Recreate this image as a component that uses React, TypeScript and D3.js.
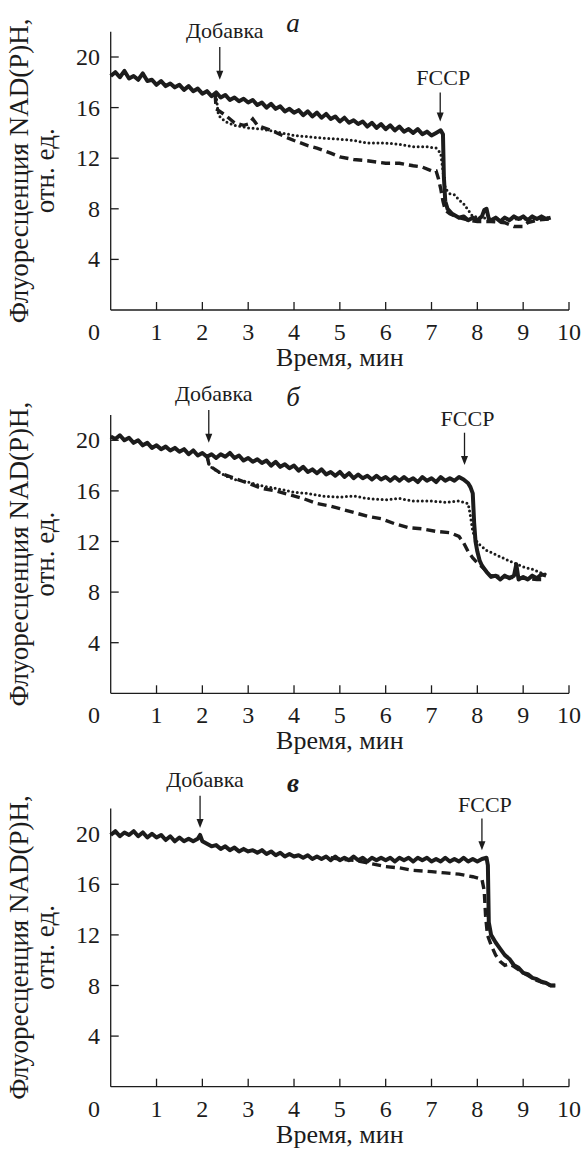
import React from 'react';
import * as d3 from 'd3';

type Pt = [number, number];

// shared axes
const xTicks = [1, 2, 3, 4, 5, 6, 7, 8, 9, 10];
const yTicks = [4, 8, 12, 16, 20];
const panelLetters = ['а', 'б', 'в'];
const addLabel = 'Добавка';
const fccpLabel = 'FCCP';

// arrows: [time, from value, to value]
const addArrows: [number, number, number][] = [[2.38, 20.8, 18.2], [2.14, 22.4, 19.8], [1.95, 23.0, 20.45]];
const fccpArrows: [number, number, number][] = [[7.19, 17.2, 14.9], [7.72, 20.6, 18.05], [8.1, 21.2, 18.7]];

// panel a
const aSolid: Pt[] = [
  [0, 18.5], [0.1, 18.8], [0.2, 18.4], [0.3, 18.9], [0.4, 18.3], [0.5, 18.5], [0.6, 18.2], [0.7, 18.7], [0.8, 18.1], [0.9, 18.2],
  [1, 17.8], [1.1, 18.1], [1.2, 17.7], [1.3, 17.9], [1.4, 17.6], [1.5, 17.8], [1.6, 17.4], [1.7, 17.7], [1.8, 17.3], [1.9, 17.5],
  [2, 17.1], [2.1, 17.3], [2.2, 16.9], [2.3, 17.2], [2.4, 16.8], [2.5, 17.0], [2.6, 16.6], [2.7, 16.8], [2.8, 16.5], [2.9, 16.7],
  [3, 16.4], [3.1, 16.6], [3.2, 16.2], [3.3, 16.4], [3.4, 16.0], [3.5, 16.3], [3.6, 15.9], [3.7, 16.1], [3.8, 15.7], [3.9, 15.9],
  [4, 15.6], [4.1, 15.8], [4.2, 15.4], [4.3, 15.7], [4.4, 15.3], [4.5, 15.6], [4.6, 15.2], [4.7, 15.5], [4.8, 15.1], [4.9, 15.3],
  [5, 14.9], [5.1, 15.2], [5.2, 14.8], [5.3, 15.0], [5.4, 14.7], [5.5, 14.9], [5.6, 14.5], [5.7, 14.8], [5.8, 14.4], [5.9, 14.7],
  [6, 14.3], [6.1, 14.6], [6.2, 14.2], [6.3, 14.5], [6.4, 14.1], [6.5, 14.3], [6.6, 14.0], [6.7, 14.3], [6.8, 13.9], [6.9, 14.1],
  [7, 13.8], [7.1, 14.0], [7.2, 14.2], [7.25, 13.9], [7.27, 10.5], [7.3, 8.6], [7.35, 8.0], [7.45, 7.6], [7.6, 7.3], [7.7, 7.4],
  [7.8, 7.1], [7.9, 7.3], [8, 7.1], [8.1, 7.4], [8.15, 7.9], [8.2, 8.0], [8.25, 7.2], [8.3, 7.1], [8.4, 7.3], [8.5, 7.0],
  [8.6, 7.3], [8.7, 7.1], [8.8, 7.4], [8.9, 7.2], [9, 7.4], [9.1, 7.1], [9.2, 7.4], [9.3, 7.2], [9.4, 7.4], [9.5, 7.2], [9.6, 7.3],
];
const aDotted: Pt[] = [
  [2.3, 17.0], [2.35, 15.4], [2.5, 14.9], [2.7, 14.6], [3, 14.4], [3.3, 14.3], [3.6, 14.1], [4, 13.8], [4.3, 13.7], [4.6, 13.6],
  [5, 13.5], [5.3, 13.4], [5.6, 13.2], [6, 13.2], [6.3, 13.1], [6.6, 12.9], [6.9, 12.9], [7.1, 12.8], [7.2, 12.4], [7.25, 11.0],
  [7.3, 9.6], [7.4, 9.2], [7.5, 9.1], [7.6, 8.7], [7.7, 8.4], [7.8, 7.9], [7.9, 7.4], [8.1, 7.3], [8.4, 7.2], [8.8, 7.2], [9.2, 7.2], [9.6, 7.3],
];
const aDashed: Pt[] = [
  [2.28, 17.0], [2.3, 15.9], [2.5, 15.4], [2.7, 14.8], [2.9, 14.6], [3, 14.7], [3.1, 15.1], [3.2, 14.6], [3.5, 14.2], [3.8, 13.7],
  [4, 13.4], [4.3, 13.0], [4.5, 12.8], [4.8, 12.4], [5, 12.1], [5.3, 11.9], [5.6, 11.8], [6, 11.6], [6.3, 11.6], [6.6, 11.4],
  [6.8, 11.3], [7, 11.0], [7.1, 11.0], [7.15, 10.4], [7.2, 9.6], [7.25, 8.6], [7.3, 7.9], [7.4, 7.6], [7.6, 7.3], [7.8, 7.1],
  [8, 7.0], [8.3, 7.0], [8.6, 6.9], [8.8, 6.6], [9, 6.6], [9.1, 6.9], [9.3, 7.1], [9.6, 7.2],
];

// panel б
const bSolid: Pt[] = [
  [0, 20.3], [0.1, 20.1], [0.2, 20.4], [0.3, 20.0], [0.4, 20.2], [0.5, 19.8], [0.6, 20.0], [0.7, 19.6], [0.8, 19.8], [0.9, 19.4],
  [1, 19.6], [1.1, 19.3], [1.2, 19.5], [1.3, 19.2], [1.4, 19.4], [1.5, 19.1], [1.6, 19.3], [1.7, 18.9], [1.8, 19.2], [1.9, 18.8],
  [2, 19.0], [2.1, 18.7], [2.2, 18.9], [2.3, 18.6], [2.4, 18.9], [2.5, 18.7], [2.6, 19.0], [2.7, 18.6], [2.8, 18.8], [2.9, 18.4],
  [3, 18.6], [3.1, 18.3], [3.2, 18.5], [3.3, 18.2], [3.4, 18.4], [3.5, 18.0], [3.6, 18.3], [3.7, 17.9], [3.8, 18.1], [3.9, 17.8],
  [4, 18.0], [4.1, 17.6], [4.2, 17.9], [4.3, 17.5], [4.4, 17.7], [4.5, 17.4], [4.6, 17.7], [4.7, 17.3], [4.8, 17.5], [4.9, 17.2],
  [5, 17.5], [5.1, 17.1], [5.2, 17.4], [5.3, 17.0], [5.4, 17.3], [5.5, 17.0], [5.6, 17.2], [5.7, 16.9], [5.8, 17.2], [5.9, 16.9],
  [6, 17.1], [6.1, 16.8], [6.2, 17.1], [6.3, 16.8], [6.4, 17.1], [6.5, 16.8], [6.6, 17.0], [6.7, 16.7], [6.8, 17.1], [6.9, 16.8],
  [7, 17.0], [7.1, 16.7], [7.2, 17.1], [7.3, 16.8], [7.4, 17.0], [7.5, 16.8], [7.6, 17.1], [7.7, 16.9], [7.8, 16.6], [7.85, 16.3],
  [7.9, 15.8], [7.93, 13.5], [7.96, 12.0], [8, 11.2], [8.05, 10.5], [8.1, 10.1], [8.2, 9.6], [8.3, 9.2], [8.4, 9.3], [8.5, 9.0],
  [8.6, 9.3], [8.7, 9.1], [8.8, 9.3], [8.85, 10.2], [8.9, 9.0], [9, 9.2], [9.1, 9.0], [9.2, 9.3], [9.3, 9.1], [9.4, 9.4], [9.5, 9.3],
];
const bDotted: Pt[] = [
  [2.1, 18.8], [2.15, 18.0], [2.3, 17.6], [2.5, 17.2], [2.7, 16.9], [3, 16.7], [3.3, 16.4], [3.6, 16.2], [4, 15.9], [4.3, 15.8],
  [4.6, 15.6], [5, 15.5], [5.3, 15.6], [5.6, 15.4], [6, 15.3], [6.3, 15.4], [6.6, 15.2], [7, 15.2], [7.3, 15.1], [7.6, 15.2],
  [7.8, 15.0], [7.85, 14.0], [7.9, 12.8], [8, 11.9], [8.2, 11.3], [8.5, 10.8], [8.8, 10.3], [9, 10.0], [9.2, 9.8], [9.4, 9.5], [9.5, 9.4],
];
const bDashed: Pt[] = [
  [2.1, 18.8], [2.15, 18.0], [2.4, 17.4], [2.7, 17.0], [3, 16.6], [3.3, 16.2], [3.6, 16.0], [3.9, 15.7], [4.2, 15.4], [4.5, 15.0],
  [4.8, 14.8], [5, 14.6], [5.3, 14.3], [5.6, 14.0], [5.9, 13.8], [6.2, 13.4], [6.5, 13.1], [6.8, 13.0], [7.1, 12.8], [7.4, 12.7],
  [7.6, 12.4], [7.7, 11.9], [7.8, 11.2], [7.9, 10.7], [8, 10.3], [8.1, 10.0], [8.3, 9.3], [8.6, 9.2], [9, 9.1], [9.3, 9.0], [9.5, 9.0],
];

// panel в
const cSolid: Pt[] = [
  [0, 19.9], [0.1, 20.2], [0.2, 19.8], [0.3, 20.1], [0.4, 19.9], [0.5, 20.2], [0.6, 19.8], [0.7, 20.1], [0.8, 19.7], [0.9, 20.0],
  [1, 19.7], [1.1, 19.9], [1.2, 19.5], [1.3, 19.8], [1.4, 19.4], [1.5, 19.7], [1.6, 19.4], [1.7, 19.6], [1.8, 19.4], [1.9, 19.6],
  [1.95, 19.9], [2, 19.4], [2.1, 19.2], [2.2, 19.0], [2.3, 19.1], [2.4, 18.8], [2.5, 19.0], [2.6, 18.7], [2.7, 18.9], [2.8, 18.6],
  [2.9, 18.8], [3, 18.6], [3.1, 18.7], [3.2, 18.5], [3.3, 18.7], [3.4, 18.4], [3.5, 18.6], [3.6, 18.3], [3.7, 18.5], [3.8, 18.2],
  [3.9, 18.4], [4, 18.2], [4.1, 18.3], [4.2, 18.1], [4.3, 18.3], [4.4, 18.0], [4.5, 18.2], [4.6, 18.0], [4.7, 18.2], [4.8, 17.9],
  [4.9, 18.2], [5, 17.9], [5.1, 18.1], [5.2, 17.9], [5.3, 18.2], [5.4, 17.9], [5.5, 18.1], [5.6, 17.8], [5.7, 18.1], [5.8, 17.9],
  [5.9, 18.1], [6, 17.9], [6.1, 18.1], [6.2, 17.8], [6.3, 18.1], [6.4, 17.9], [6.5, 18.1], [6.6, 17.8], [6.7, 18.1], [6.8, 17.9],
  [6.9, 18.1], [7, 17.8], [7.1, 18.0], [7.2, 17.8], [7.3, 18.1], [7.4, 17.8], [7.5, 18.0], [7.6, 17.8], [7.7, 18.1], [7.8, 17.8],
  [7.9, 18.0], [8, 17.8], [8.1, 18.0], [8.2, 18.1], [8.23, 17.5], [8.25, 13.0], [8.3, 12.0], [8.4, 11.4], [8.5, 10.9], [8.6, 10.4],
  [8.7, 10.1], [8.8, 9.6], [8.9, 9.4], [9, 9.0], [9.1, 8.9], [9.2, 8.6], [9.3, 8.5], [9.4, 8.3], [9.5, 8.2], [9.6, 8.0], [9.7, 8.0],
];
const cDashed: Pt[] = [
  [4.8, 18.1], [5, 18.0], [5.3, 17.9], [5.6, 17.7], [6, 17.4], [6.3, 17.3], [6.6, 17.1], [7, 17.0], [7.3, 16.9], [7.6, 16.8],
  [7.9, 16.6], [8.1, 16.4], [8.15, 15.5], [8.18, 13.5], [8.22, 12.0], [8.3, 11.2], [8.4, 10.4], [8.5, 9.9], [8.6, 9.6], [8.7, 9.7],
  [8.8, 9.5], [9, 9.0], [9.3, 8.4], [9.6, 8.0], [9.7, 8.0],
];

const panels = [
  { bottom: 310, letter: panelLetters[0], letterY: 32, letterBold: false, solid: aSolid, dotted: aDotted, dashed: aDashed, add: addArrows[0], fccp: fccpArrows[0] },
  { bottom: 693.3, letter: panelLetters[1], letterY: 406, letterBold: false, solid: bSolid, dotted: bDotted, dashed: bDashed, add: addArrows[1], fccp: fccpArrows[1] },
  { bottom: 1086.7, letter: panelLetters[2], letterY: 792, letterBold: true, solid: cSolid, dotted: null, dashed: cDashed, add: addArrows[2], fccp: fccpArrows[2] },
];

const ink = '#1c1c1c';
const serif = '"Liberation Serif", "DejaVu Serif", serif';

function Arrow({ x, y1, y2 }: { x: number; y1: number; y2: number }) {
  return (
    <g>
      <line x1={x} x2={x} y1={y1} y2={y2 - 6} stroke={ink} strokeWidth={1.3} />
      <path d={`M${x - 3.5},${y2 - 9} L${x + 3.5},${y2 - 9} L${x},${y2} Z`} fill={ink} />
    </g>
  );
}

function Panel({ p }: { p: typeof panels[number] }) {
  const x = d3.scaleLinear().domain([0, 10]).range([110.7, 569]);
  const y = d3.scaleLinear().domain([0, 22]).range([p.bottom, p.bottom - 22 * 12.65]);
  const line = d3.line<Pt>().x(d => x(d[0])).y(d => y(d[1])).curve(d3.curveLinear);
  const midY = y(11);

  return (
    <g fontFamily={serif} fill={ink}>
      {p.dashed && (
        <path d={line(p.dashed) || ''} fill="none" stroke={ink} strokeWidth={3.4} strokeDasharray="9 5" />
      )}
      {p.dotted && (
        <path d={line(p.dotted) || ''} fill="none" stroke={ink} strokeWidth={3} strokeDasharray="0 4.5" strokeLinecap="round" />
      )}
      <path d={line(p.solid) || ''} fill="none" stroke={ink} strokeWidth={4} strokeLinejoin="round" />

      {/* axes */}
      <line x1={x(0)} x2={x(0)} y1={y(0)} y2={y(22)} stroke={ink} strokeWidth={1.3} />
      <line x1={x(0)} x2={x(10)} y1={y(0)} y2={y(0)} stroke={ink} strokeWidth={1.3} />
      {yTicks.map(t => (
        <g key={'y' + t}>
          <line x1={x(0)} x2={x(0) + 8} y1={y(t)} y2={y(t)} stroke={ink} strokeWidth={1.3} />
          <text x={100} y={y(t) + 8} fontSize={24} textAnchor="end">{t}</text>
        </g>
      ))}
      {xTicks.map(t => (
        <g key={'x' + t}>
          <line x1={x(t)} x2={x(t)} y1={y(0)} y2={y(0) - 8} stroke={ink} strokeWidth={1.3} />
          <text x={x(t)} y={y(0) + 30} fontSize={24} textAnchor="middle">{t}</text>
        </g>
      ))}
      <text x={94} y={y(0) + 30} fontSize={24} textAnchor="middle">0</text>

      <text x={x(5)} y={y(0) + 56} fontSize={26} textAnchor="middle">Время, мин</text>
      <g transform={`translate(28,${midY}) rotate(-90)`}>
        <text x={0} y={0} fontSize={27} textAnchor="middle">Флуоресценция NAD(P)H,</text>
        <text x={0} y={26} fontSize={27} textAnchor="middle">отн. ед.</text>
      </g>

      {/* annotations */}
      <Arrow x={x(p.add[0])} y1={y(p.add[1])} y2={y(p.add[2])} />
      <text x={x(p.add[0]) + 5} y={y(p.add[1]) - 9} fontSize={22} textAnchor="middle">{addLabel}</text>
      <Arrow x={x(p.fccp[0])} y1={y(p.fccp[1])} y2={y(p.fccp[2])} />
      <text x={x(p.fccp[0]) + 3} y={y(p.fccp[1]) - 7} fontSize={22} textAnchor="middle">{fccpLabel}</text>
      <text x={293} y={p.letterY} fontSize={27} fontStyle="italic" fontWeight={p.letterBold ? 'bold' : 'normal'} textAnchor="middle">{p.letter}</text>
    </g>
  );
}

export default function App() {
  return (
    <svg width={583} height={1150} style={{ position: 'absolute', left: 0, top: 0, background: '#fff' }}>
      <rect width={583} height={1150} fill="#fff" />
      {panels.map((p, i) => <Panel key={i} p={p} />)}
    </svg>
  );
}
